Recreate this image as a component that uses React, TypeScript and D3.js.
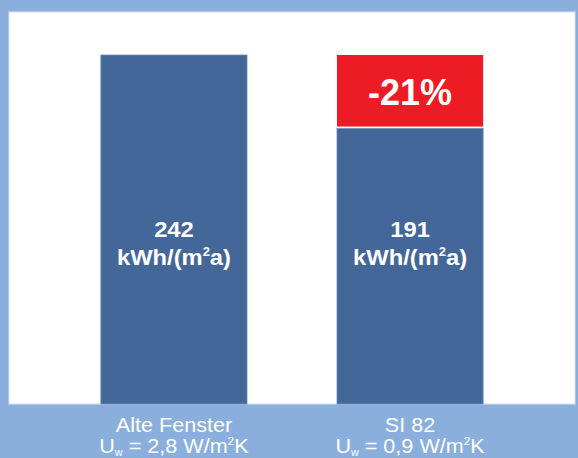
import * as d3 from "d3";

const categories = ["Alte Fenster", "SI 82"];
const uwLabels = ["2,8", "0,9"];
const values = [242, 191];
const reductionLabel = "-21%";

const width = 578;
const height = 458;
const font = "'Liberation Sans', Arial, sans-serif";
const stretch = 1.08;

export default function App() {
    const x = d3.scaleBand<string>()
        .domain(categories)
        .range([56, 528])
        .paddingInner(0.381)
        .paddingOuter(0.19);
    const y = d3.scaleLinear([0, values[0]], [404, 55]);
    const bw = x.bandwidth();

    return (
        <div style={{ position: "absolute", left: 0, top: 0 }}>
            <svg width={width} height={height} style={{ display: "block" }} fontFamily={font}>
                {/* frame */}
                <rect x={0} y={0} width={width} height={height} fill="#8aafdd" />
                <rect x={9} y={12} width={566} height={392} fill="#ffffff" stroke="#d3e1f3" strokeWidth={1} />

                {/* bars */}
                {categories.map((c, i) => (
                    <rect key={c} x={x(c)} y={y(values[i])} width={bw} height={y(0) - y(values[i])}
                          fill="#44679a" stroke="#6f8cb5" strokeWidth={0.8} />
                ))}

                {/* reduction segment */}
                <rect x={x(categories[1])} y={y(values[0])} width={bw}
                      height={y(values[1]) - y(values[0]) - 2} fill="#ed1c24" />
                <text x={(x(categories[1]) ?? 0) + bw / 2} y={(y(values[0]) + y(values[1])) / 2 + 13}
                      textAnchor="middle" fill="#fff" fontWeight="bold" fontSize={36}>
                    {reductionLabel}
                </text>

                {/* value labels */}
                {categories.map((c, i) => {
                    const cx = (x(c) ?? 0) + bw / 2;
                    return (
                        <g key={c} fill="#fff" fontWeight="bold" fontSize={22} textAnchor="middle"
                           transform={`translate(${cx},0) scale(${stretch},1)`}>
                            <text x={0} y={237}>{values[i]}</text>
                            <text x={0} y={265}>
                                kWh/(m<tspan fontSize={12} dy={-9}>2</tspan><tspan dy={9}>a)</tspan>
                            </text>
                        </g>
                    );
                })}

                {/* category labels */}
                {categories.map((c, i) => {
                    const cx = (x(c) ?? 0) + bw / 2;
                    return (
                        <g key={c} fill="#fff" fontSize={20} textAnchor="middle"
                           transform={`translate(${cx},0) scale(${stretch},1)`}>
                            <text x={0} y={432}>{c}</text>
                            <text x={0} y={453}>
                                U<tspan fontSize={10} dy={3}>w</tspan>
                                <tspan dy={-3}> = {uwLabels[i]} W/m</tspan>
                                <tspan fontSize={11} dy={-8}>2</tspan>
                                <tspan dy={8}>K</tspan>
                            </text>
                        </g>
                    );
                })}
            </svg>
        </div>
    );
}
